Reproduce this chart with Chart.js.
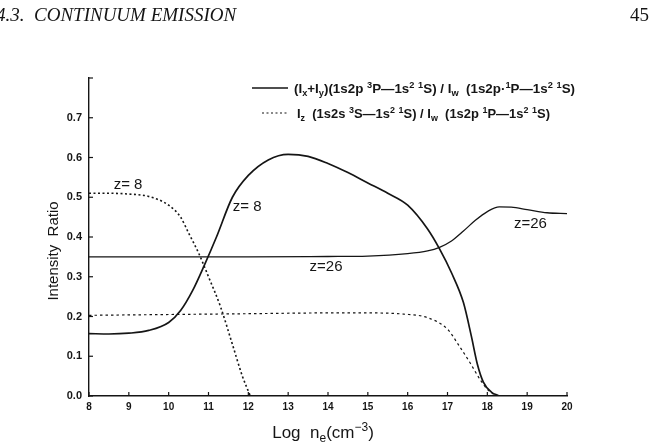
<!DOCTYPE html>
<html>
<head>
<meta charset="utf-8">
<script src="https://cdn.jsdelivr.net/npm/chart.js@4.4.0/dist/chart.umd.min.js"></script>
<style>
  html, body { margin: 0; padding: 0; background: #fff; }
  #wrap { position: relative; width: 658px; height: 447px; }
</style>
</head>
<body>
<div id="wrap"><canvas id="chart" width="658" height="447"></canvas></div>
<script>
// (Ix+Iy)/Iw, z = 8  (solid)
const xyZ8LogNe = [8, 8.5, 9, 9.5, 10, 10.3, 10.6, 10.9, 11.2, 11.6, 12, 12.5, 13, 13.5, 14, 14.5, 15, 15.5, 16, 16.5, 16.8, 17.1, 17.4, 17.6, 17.75, 17.9, 18.1, 18.3];
const xyZ8Ratio = [0.157, 0.156, 0.158, 0.165, 0.185, 0.215, 0.265, 0.33, 0.40, 0.50, 0.555, 0.594, 0.608, 0.603, 0.585, 0.562, 0.536, 0.51, 0.48, 0.42, 0.37, 0.31, 0.235, 0.15, 0.08, 0.035, 0.01, 0];

// (Ix+Iy)/Iw, z = 26  (solid)
const xyZ26LogNe = [8, 10, 12, 14, 15, 16, 16.5, 16.8, 17.1, 17.4, 17.7, 18, 18.3, 18.6, 19, 19.5, 20];
const xyZ26Ratio = [0.35, 0.35, 0.35, 0.351, 0.352, 0.358, 0.365, 0.374, 0.39, 0.415, 0.442, 0.464, 0.476, 0.475, 0.469, 0.461, 0.459];

// Iz/Iw, z = 8  (dotted)
const zZ8LogNe = [8, 8.5, 9, 9.5, 10, 10.3, 10.5, 10.75, 11, 11.3, 11.6, 11.85, 12.05];
const zZ8Ratio = [0.51, 0.51, 0.508, 0.502, 0.48, 0.45, 0.41, 0.36, 0.30, 0.225, 0.13, 0.05, 0];

// Iz/Iw, z = 26  (dotted)
const zZ26LogNe = [8, 10, 12, 14, 15, 15.9, 16.5, 17, 17.3, 17.57, 17.82, 18.02, 18.3, 19, 20];
const zZ26Ratio = [0.203, 0.205, 0.207, 0.209, 0.209, 0.206, 0.197, 0.168, 0.125, 0.083, 0.041, 0.015, 0, 0, 0];

const xTicks = [8, 9, 10, 11, 12, 13, 14, 15, 16, 17, 18, 19, 20];
const yTicks = [0, 0.1, 0.2, 0.3, 0.4, 0.5, 0.6, 0.7, 0.8];

const ink = "#151515";
const sans = "'Liberation Sans', Arial, sans-serif";

function pts(xs, ys) {
  return xs.map((x, i) => ({ x: x, y: ys[i] }));
}

// draws text with sub/superscripts; parts = [[text, 0|1|2], ...]  1 = sub, 2 = sup
// if fitWidth is given the run is stretched horizontally to that width
function richText(ctx, x, y, parts, size, weight, align, fitWidth) {
  const small = Math.round(size * 0.7);
  const fontOf = (m) => weight + " " + (m ? small : size) + "px " + sans;
  let w = 0;
  parts.forEach(([t, m]) => { ctx.font = fontOf(m); w += ctx.measureText(t).width; });
  const sx = fitWidth ? fitWidth / w : 1;
  ctx.save();
  ctx.translate(align === "center" ? x - (w * sx) / 2 : x, y);
  ctx.scale(sx, 1);
  ctx.textBaseline = "alphabetic";
  ctx.textAlign = "left";
  let cx = 0;
  parts.forEach(([t, m]) => {
    ctx.font = fontOf(m);
    const dy = m === 1 ? size * 0.22 : m === 2 ? -size * 0.42 : 0;
    ctx.fillText(t, cx, dy);
    cx += ctx.measureText(t).width;
  });
  ctx.restore();
}

const decorations = {
  id: "decorations",
  afterDraw(chart) {
    const ctx = chart.ctx;
    const xs = chart.scales.x, ys = chart.scales.y;
    const area = chart.chartArea;
    ctx.save();
    ctx.fillStyle = ink;
    ctx.strokeStyle = ink;

    // inward tick marks
    ctx.lineWidth = 1.2;
    xTicks.forEach(v => {
      const px = xs.getPixelForValue(v);
      ctx.beginPath(); ctx.moveTo(px, area.bottom); ctx.lineTo(px, area.bottom - 4); ctx.stroke();
    });
    yTicks.forEach(v => {
      const py = ys.getPixelForValue(v);
      ctx.beginPath(); ctx.moveTo(area.left, py); ctx.lineTo(area.left + 4, py); ctx.stroke();
    });

    // page header
    ctx.font = "italic 19px 'Liberation Serif', 'DejaVu Serif', serif";
    ctx.textBaseline = "alphabetic";
    ctx.textAlign = "left";
    ctx.fillText("4.3.  CONTINUUM EMISSION", -4, 21);
    ctx.font = "19px 'Liberation Serif', serif";
    ctx.textAlign = "right";
    ctx.fillText("45", 649, 21);

    // legend
    ctx.lineWidth = 1.6;
    ctx.beginPath(); ctx.moveTo(252, 88); ctx.lineTo(288, 88); ctx.stroke();
    ctx.setLineDash([2, 2.5]);
    ctx.lineWidth = 1.2;
    ctx.beginPath(); ctx.moveTo(262, 113); ctx.lineTo(289, 113); ctx.stroke();
    ctx.setLineDash([]);
    richText(ctx, 294, 93, [["(I", 0], ["x", 1], ["+I", 0], ["y", 1], [")(1s2p ", 0], ["3", 2], ["P\u20141s", 0], ["2", 2], [" ", 0], ["1", 2], ["S) / I", 0], ["w", 1], ["  (1s2p\u00b7", 0], ["1", 2], ["P\u20141s", 0], ["2", 2], [" ", 0], ["1", 2], ["S)", 0]], 13, "bold", "left", 281);
    richText(ctx, 297, 118, [["I", 0], ["z", 1], ["  (1s2s ", 0], ["3", 2], ["S\u20141s", 0], ["2", 2], [" ", 0], ["1", 2], ["S) / I", 0], ["w", 1], ["  (1s2p ", 0], ["1", 2], ["P\u20141s", 0], ["2", 2], [" ", 0], ["1", 2], ["S)", 0]], 13, "bold", "left", 253);

    // curve labels
    ctx.font = "15px " + sans;
    ctx.textAlign = "center";
    ctx.textBaseline = "middle";
    ctx.fillText("z= 8", xs.getPixelForValue(8.98), ys.getPixelForValue(0.532));
    ctx.fillText("z= 8", xs.getPixelForValue(11.97), ys.getPixelForValue(0.475));
    ctx.fillText("z=26", xs.getPixelForValue(13.95), ys.getPixelForValue(0.325));
    ctx.fillText("z=26", xs.getPixelForValue(19.08), ys.getPixelForValue(0.434));

    // axis titles
    richText(ctx, 323, 438, [["Log  n", 0], ["e", 1], ["(cm", 0], ["\u22123", 2], [")", 0]], 17, "normal", "center");
    ctx.translate(54, 251);
    ctx.rotate(-Math.PI / 2);
    ctx.font = "15px " + sans;
    ctx.textAlign = "center";
    ctx.textBaseline = "middle";
    ctx.fillText("Intensity  Ratio", 0, 0);
    ctx.restore();
  }
};

const lineStyle = { borderColor: ink, pointRadius: 0, fill: false, cubicInterpolationMode: "monotone" };

new Chart(document.getElementById("chart"), {
  type: "line",
  data: {
    datasets: [
      Object.assign({ label: "xy z8", data: pts(xyZ8LogNe, xyZ8Ratio), borderWidth: 1.7 }, lineStyle),
      Object.assign({ label: "xy z26", data: pts(xyZ26LogNe, xyZ26Ratio), borderWidth: 1.3 }, lineStyle),
      Object.assign({ label: "z z8", data: pts(zZ8LogNe, zZ8Ratio), borderWidth: 1.6, borderDash: [2, 2.5] }, lineStyle),
      Object.assign({ label: "z z26", data: pts(zZ26LogNe, zZ26Ratio), borderWidth: 1.2, borderDash: [2.5, 3] }, lineStyle)
    ]
  },
  options: {
    responsive: false,
    animation: false,
    devicePixelRatio: 1,
    layout: { padding: { left: 0, right: 91, top: 78, bottom: 0 } },
    plugins: { legend: { display: false }, tooltip: { enabled: false } },
    scales: {
      x: {
        type: "linear",
        min: 8,
        max: 20,
        afterBuildTicks: (s) => { s.ticks = xTicks.map(v => ({ value: v })); },
        afterFit: (s) => { s.height = 51; },
        grid: { drawOnChartArea: false, drawTicks: false },
        border: { color: ink, width: 1.4 },
        ticks: { color: ink, padding: 5, maxRotation: 0, font: { family: sans, size: 10, weight: "bold" } }
      },
      y: {
        min: 0,
        max: 0.8,
        afterBuildTicks: (s) => { s.ticks = yTicks.map(v => ({ value: v })); },
        afterFit: (s) => { s.width = 89; },
        grid: { drawOnChartArea: false, drawTicks: false },
        border: { color: ink, width: 1.4 },
        ticks: {
          color: ink, padding: 7,
          font: { family: sans, size: 11, weight: "bold" },
          callback: (v) => v > 0.75 ? "" : v.toFixed(1)
        }
      }
    }
  },
  plugins: [decorations]
});
</script>
</body>
</html>
